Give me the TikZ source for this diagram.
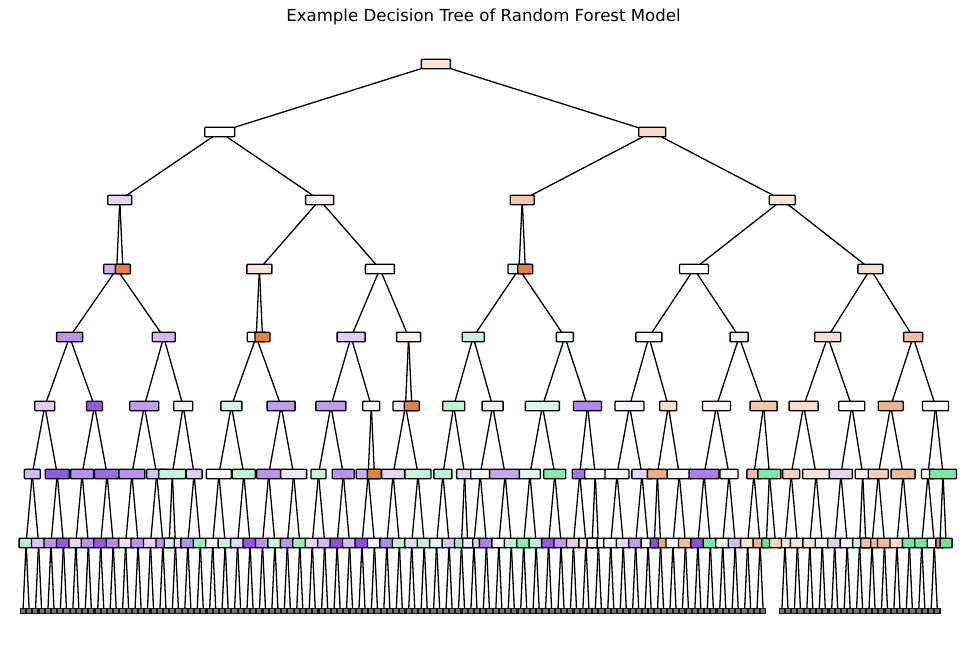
\documentclass[tikz,border=0pt]{standalone}
\usepackage{fontspec}
\setmainfont{DejaVu Sans}
\usetikzlibrary{backgrounds}
\definecolor{CO}{RGB}{229,129,57}
\definecolor{CG}{RGB}{57,229,129}
\definecolor{CP}{RGB}{129,57,229}
\newcommand{\TN}[5]{\node[tb,minimum width=#4pt,fill=#5] (#1) at (#2,#3) {};}
\def\hlist{0/g1/CG!40, 1/g1/CP!30, 2/g2/CP!55, 3/g2/CP!85, 4/g3/CP!20, 5/g3/CP!55, 6/g4/CP!85, 7/g4/CP!60, 8/g5/CP!15, 9/g5/CP!55, 10/g6/CP!20, 11/g6/CP!55, 12/g7/CP!20, 13/g8/CP!55, 14/g8/CG!55, 15/g9/white, 16/g9/CG!30, 17/g10/CP!20, 18/g10/CP!85, 19/g11/CP!55, 20/g11/CG!30, 21/g12/CP!55, 22/g12/CG!55, 23/g13/CP!20, 24/g13/CP!35, 25/g14/CP!90, 26/g14/CP!35, 27/g15/CP!90, 28/g15/CP!5, 29/g17/CP!60, 30/g17/CG!35, 31/g18/CP!20, 32/g18/CG!35, 33/g19/CG!15, 34/g19/CP!30, 35/g20/CG!55, 36/g21/CP!25, 37/g21/CP!65, 38/g22/CO!3, 39/g22/CG!35, 40/g23/CG!65, 41/g23/CG!35, 42/g24/CP!85, 43/g24/CP!50, 44/g25/CP!25, 45/g25/CO!20, 46/g26/CO!3, 47/g27/CP!3, 48/g27/CP!20, 49/g28/CP!50, 50/g28/CO!5, 51/g29/CO!70, 52/g30/CO!5, 53/g30/CO!55, 54/g31/CP!90, 55/g31/CG!70, 56/g32/CO!8, 57/g32/CP!35, 58/g33/CO!20, 59/g33/CO!60, 61/g35/CO!20, 62/g35/CO!20, 63/g36/CO!20, 64/g36/CP!8, 65/g37/CP!25, 66/g37/CO!3, 67/g38/CG!30, 68/g39/CO!55, 69/g39/CO!55, 70/g40/CO!25, 71/g40/CG!75, 72/g41/CG!75, 73/g41/CO!3}
\begin{document}
\begin{tikzpicture}[x=1pt,y=-1pt,
  tb/.style={draw=black,line width=1.35pt,rounded corners=0.8pt,minimum height=9.5pt,inner sep=0pt,outer sep=0pt},
  sq/.style={draw=black!90,fill=black!55,line width=1.1pt,minimum width=5.2pt,minimum height=5.2pt,inner sep=0pt,outer sep=0pt},
  ed/.style={line width=1.3pt,black}]
\useasboundingbox (0,0) rectangle (965,656);
\node[font=\fontsize{16.6}{19}\selectfont] (title) at (483.5,17) {Example Decision Tree of Random Forest Model};
% level 0-2
\TN{a}{435.9}{64}{29}{CO!20}
\TN{b1}{219.7}{132}{30}{CO!3}
\TN{b2}{652.2}{132}{27}{CO!30}
\TN{c1}{119.8}{200}{24}{CP!20}
\TN{c2}{319.6}{200}{28}{CO!10}
\TN{c3}{522.2}{200}{24}{CO!45}
\TN{c4}{782.2}{200}{26}{CO!22}
% level 3
\TN{d1}{116.7}{269}{26}{CP!40}
\TN{d2}{122.9}{269}{15}{CO!100}
\TN{d3}{259.4}{269}{25}{CO!20}
\TN{d4}{379.9}{269}{29}{CO!4}
\TN{d5}{519.0}{269}{22}{CG!22}
\TN{d6}{525.3}{269}{15}{CO!100}
\TN{d7}{694.0}{269}{29}{CO!2}
\TN{d8}{870.4}{269}{25}{CO!25}
% level 4
\TN{e1}{69.6}{337}{26}{CP!55}
\TN{e2}{163.7}{337}{23}{CP!35}
\TN{e3}{256.2}{337}{18}{CO!3}
\TN{e4}{262.5}{337}{15}{CO!100}
\TN{e5}{351.1}{337}{28}{CP!25}
\TN{e6}{408.6}{337}{24}{CO!10}
\TN{e7}{473.2}{337}{22}{CG!30}
\TN{e8}{564.9}{337}{17}{CG!5}
\TN{e9}{648.9}{337}{26}{CP!3}
\TN{e10}{739.1}{337}{18}{CO!15}
\TN{e11}{827.7}{337}{26}{CO!25}
\TN{e12}{913.1}{337}{19}{CO!50}
% level 5
\TN{f1}{44.8}{406}{20}{CP!25}
\TN{f2}{94.5}{406}{16}{CP!85}
\TN{f3}{144.3}{406}{29}{CP!50}
\TN{f4}{183.2}{406}{19}{CP!8}
\TN{f5}{231.4}{406}{21}{CG!22}
\TN{f6}{281.1}{406}{28}{CP!50}
\TN{f7}{330.9}{406}{30}{CP!50}
\TN{f8}{371.3}{406}{17}{CO!2}
\TN{f9}{405.5}{406}{25}{CP!8}
\TN{f10}{411.8}{406}{15}{CO!100}
\TN{f11}{453.7}{406}{22}{CG!35}
\TN{f12}{492.6}{406}{21}{CP!8}
\TN{f13}{542.4}{406}{34}{CG!20}
\TN{f14}{587.5}{406}{28}{CP!60}
\TN{f15}{629.5}{406}{29}{CP!5}
\TN{f16}{668.3}{406}{17}{CO!25}
\TN{f17}{716.5}{406}{28}{CO!8}
\TN{f18}{763.6}{406}{27}{CO!45}
\TN{f19}{803.6}{406}{29}{CO!25}
\TN{f20}{851.8}{406}{26}{CO!5}
\TN{f21}{890.7}{406}{25}{CO!60}
\TN{f22}{935.5}{406}{26}{CO!4}
% level 6
\TN{g1}{32.3}{474}{16}{CP!35}
\TN{g2}{57.2}{474}{24}{CP!85}
\TN{g3}{82.1}{474}{23}{CP!55}
\TN{g4}{107.0}{474}{25}{CP!75}
\TN{g5}{131.9}{474}{26}{CP!55}
\TN{g6}{156.7}{474}{20}{CP!30}
\TN{g7}{172.3}{474}{27}{CG!30}
\TN{g8}{194.1}{474}{16}{CP!25}
\TN{g9}{218.9}{474}{25}{CP!2}
\TN{g10}{243.8}{474}{23}{CG!35}
\TN{g11}{268.7}{474}{24}{CP!55}
\TN{g12}{293.6}{474}{26}{CP!12}
\TN{g13}{318.5}{474}{15}{CG!30}
\TN{g14}{343.3}{474}{22}{CP!55}
\TN{g15}{368.2}{474}{24}{CP!40}
\TN{g16}{374.4}{474}{14}{CO!100}
\TN{g17}{393.1}{474}{23}{CP!20}
\TN{g18}{418.0}{474}{26}{CG!30}
\TN{g19}{442.9}{474}{18}{CG!35}
\TN{g20}{464.6}{474}{16}{CP!20}
\TN{g21}{480.2}{474}{19}{CG!3}
\TN{g22}{505.1}{474}{31}{CP!45}
\TN{g23}{529.9}{474}{21}{CG!15}
\TN{g24}{554.8}{474}{22}{CG!65}
\TN{g25}{579.7}{474}{15}{CP!70}
\TN{g26}{595.2}{474}{21}{CO!2}
\TN{g27}{617.0}{474}{24}{CO!4}
\TN{g28}{641.9}{474}{20}{CP!20}
\TN{g29}{657.4}{474}{20}{CO!65}
\TN{g30}{679.2}{474}{24}{CO!8}
\TN{g31}{704.1}{474}{30}{CP!65}
\TN{g32}{729.0}{474}{18}{CO!8}
\TN{g33}{753.9}{474}{14}{CO!55}
\TN{g34}{769.4}{474}{23}{CG!70}
\TN{g35}{791.2}{474}{17}{CO!35}
\TN{g36}{816.1}{474}{27}{CO!20}
\TN{g37}{840.9}{474}{23}{CP!20}
\TN{g38}{862.7}{474}{15}{CO!10}
\TN{g39}{878.3}{474}{20}{CO!40}
\TN{g40}{903.1}{474}{24}{CO!55}
\TN{g41}{928.0}{474}{13}{CO!3}
\TN{g42}{943.0}{474}{27}{CG!70}
% level 7
\foreach \k/\pp/\cc in \hlist {\node[tb,minimum width=14pt,fill=\cc] (h\k) at ({26.11+12.44*\k},543) {};}
\TN{l1}{169.2}{543}{10}{CG!30}
\TN{l2}{467.7}{543}{10}{CP!10}
\TN{l3}{592.1}{543}{10}{CO!3}
\TN{l4}{654.3}{543}{8}{CP!90}
\TN{l5}{766.3}{543}{9}{CG!85}
\TN{l9}{775.5}{543}{12}{CO!35}
\TN{l6}{865.8}{543}{10}{CO!50}
\TN{l7}{939.9}{543}{8}{CO!95}
\TN{l8}{946.1}{543}{12}{CG!80}
% level 8 (truncated)
\foreach \j in {0,...,119,122,123,...,147} {\node[sq] (s\j) at ({23+6.22*\j},611) {};}
% connectors
\begin{scope}[on background layer]
\foreach \pp/\cc in {a/b1,a/b2,b1/c1,b1/c2,b2/c3,b2/c4,c1/d1,c1/d2,c2/d3,c2/d4,c3/d5,c3/d6,c4/d7,c4/d8,d1/e1,d1/e2,d3/e3,d3/e4,d4/e5,d4/e6,d5/e7,d5/e8,d7/e9,d7/e10,d8/e11,d8/e12,e1/f1,e1/f2,e2/f3,e2/f4,e3/f5,e3/f6,e5/f7,e5/f8,e6/f9,e6/f10,e7/f11,e7/f12,e8/f13,e8/f14,e9/f15,e9/f16,e10/f17,e10/f18,e11/f19,e11/f20,e12/f21,e12/f22,f1/g1,f1/g2,f2/g3,f2/g4,f3/g5,f3/g6,f4/g7,f4/g8,f5/g9,f5/g10,f6/g11,f6/g12,f7/g13,f7/g14,f8/g15,f8/g16,f9/g17,f9/g18,f11/g19,f11/g20,f12/g21,f12/g22,f13/g23,f13/g24,f14/g25,f14/g26,f15/g27,f15/g28,f16/g29,f16/g30,f17/g31,f17/g32,f18/g33,f18/g34,f19/g35,f19/g36,f20/g37,f20/g38,f21/g39,f21/g40,f22/g41,f22/g42,g7/l1,g20/l2,g26/l3,g29/l4,g34/l5,g34/l9,g38/l6,g42/l7,g42/l8}
  {\draw[ed] (\pp) -- (\cc);}
\foreach \k/\pp/\cc in \hlist {
  \pgfmathtruncatemacro{\ja}{2*\k}
  \pgfmathtruncatemacro{\jb}{2*\k+1}
  \draw[ed] (\pp) -- (h\k);
  \draw[ed] (h\k) -- (s\ja);
  \draw[ed] (h\k) -- (s\jb);
}
\end{scope}
\end{tikzpicture}
\end{document}
